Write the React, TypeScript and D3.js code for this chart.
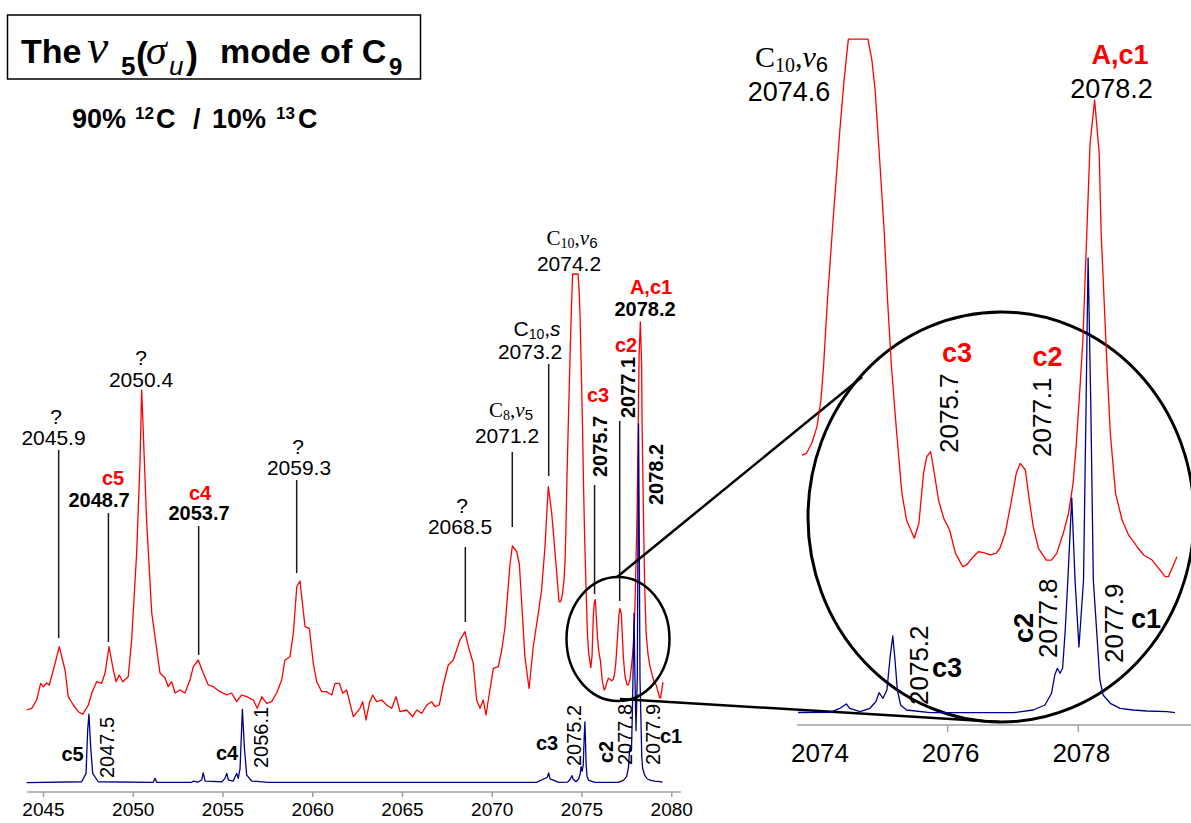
import React from 'react';
import * as d3 from 'd3';

// Red trace: 90% 12C / 10% 13C spectrum  [wavenumber (cm-1), absorbance (arb.)]
const redSpectrum: [number, number][] = [
  [2044.06,10],[2044.34,11.7],[2044.62,20],[2044.84,36.7],[2044.99,33.3],[2045.18,37],[2045.32,35],[2045.55,50],[2045.88,73.3],[2046.2,50],
  [2046.38,23.3],[2046.66,15],[2046.94,8.3],[2047.18,5.7],[2047.5,15],[2047.69,27],[2047.96,38.3],[2048.24,36.7],[2048.43,47],[2048.65,73.3],
  [2048.89,50],[2049.04,38.3],[2049.22,45],[2049.41,38.3],[2049.72,43.3],[2049.91,80],[2050.19,167],[2050.38,260],[2050.47,330],[2050.75,197],
  [2051.03,107],[2051.21,83.3],[2051.49,47],[2051.77,42],[2051.95,33.3],[2052.14,38.3],[2052.33,27],[2052.6,30],[2052.88,27],[2053.16,40],
  [2053.35,53.3],[2053.62,60],[2053.9,47],[2054.18,35],[2054.46,33.3],[2054.83,28.3],[2055.21,25],[2055.48,27],[2055.76,18.3],[2056.04,25],
  [2056.32,23.3],[2056.69,20],[2056.91,11.7],[2057.16,23.3],[2057.43,16.7],[2057.71,18.3],[2057.99,27],[2058.27,40],[2058.45,60],[2058.73,63.3],
  [2058.92,87],[2059.11,133.3],[2059.29,139],[2059.57,93.3],[2059.81,91.7],[2060.03,56.7],[2060.22,38.3],[2060.5,28.3],[2060.78,28.3],[2061.06,25],
  [2061.24,36.7],[2061.48,36.7],[2061.67,26.7],[2061.89,30],[2062.26,3.3],[2062.63,11.7],[2062.78,18.3],[2062.97,0],[2063.15,16.7],[2063.34,25],
  [2063.56,18.3],[2063.84,20],[2064.12,15],[2064.4,11.7],[2064.64,23.3],[2064.86,8.3],[2065.23,10],[2065.57,3.3],[2065.79,10],[2066.07,6.7],
  [2066.35,15],[2066.63,18.3],[2066.81,13.3],[2067.05,15],[2067.27,35],[2067.55,55],[2067.83,60],[2068.2,80],[2068.48,88.3],[2068.67,73.3],
  [2068.94,56.7],[2069.13,20],[2069.32,11.7],[2069.5,20],[2069.65,5],[2069.87,30],[2070.06,51.7],[2070.34,53.3],[2070.53,70],[2070.71,93],
  [2070.99,156],[2071.12,174],[2071.36,168.5],[2071.51,156],[2071.82,63],[2072.05,31.5],[2072.29,74],[2072.57,107.4],[2072.75,130],[2072.94,174],
  [2073.12,233.3],[2073.31,207.4],[2073.5,167],[2073.72,118.5],
  [2073.77,118],[2073.84,119.4],[2073.92,127.3],[2074.0,140.4],[2074.06,161.4],[2074.1,187.7],[2074.16,240.3],[2074.25,305.9],[2074.35,374.3],[2074.41,411.1],
  [2074.48,446],[2074.78,446],[2074.84,429.4],[2074.89,405.7],[2074.96,350.5],[2075.03,293.1],[2075.08,240.3],[2075.14,187.7],[2075.22,135.2],[2075.3,87.8],
  [2075.37,66.8],[2075.49,52.4],[2075.56,64.2],[2075.63,103.6],[2075.68,116.7],[2075.74,120.6],[2075.78,108.8],[2075.86,82.6],[2075.94,68.1],[2076.03,58.9],
  [2076.12,40.5],[2076.23,30],[2076.29,31.3],[2076.37,36.6],[2076.47,41.8],[2076.55,41],[2076.65,39.2],[2076.74,40.5],[2076.8,44.5],[2076.88,56.3],
  [2076.96,77.3],[2077.05,103.6],[2077.11,111.5],[2077.19,106.2],[2077.25,82.6],[2077.31,61.5],[2077.39,44.5],[2077.51,35.2],[2077.59,35.2],[2077.67,40.5],
  [2077.77,56.3],[2077.85,72.1],[2077.92,95.7],[2077.97,127.3],[2078.02,166.7],[2078.07,208.7],[2078.13,292.9],[2078.18,363.8],[2078.25,398],[2078.32,355.9],
  [2078.35,292.9],[2078.44,187.7],[2078.49,135.2],[2078.57,87.8],[2078.67,66.8],[2078.77,55],[2078.9,45.7],[2079.0,39.2],[2079.13,35.2],[2079.23,28.7],
  [2079.33,22.1],[2079.38,22.1],[2079.51,37.8],
];

// Blue trace: calculated / reference spectrum
const blueSpectrum: [number, number][] = [
  [2044.06,0],[2047.13,1.2],[2047.37,11.8],[2047.46,66],[2047.53,87],[2047.63,45],[2047.74,11.8],[2048.05,1.2],[2051.12,0.5],[2051.21,5.5],
  [2051.31,0.5],[2053.26,0.5],[2053.35,2.1],[2053.6,0.8],[2053.81,3.4],[2053.9,12.5],[2054.0,2.1],[2054.93,1.2],[2055.11,5.5],[2055.21,11.8],
  [2055.3,3.4],[2055.57,2.1],[2055.76,11.8],[2055.85,5.5],[2055.95,18],[2056.08,93],[2056.19,45],[2056.32,9.6],[2056.6,2.1],[2057.5,0.5],
  [2072.47,0.5],[2073.07,6.9],[2073.14,12.5],[2073.22,4.8],[2073.71,0.5],[2074.2,0.7],[2074.35,4.7],[2074.45,9],[2074.5,4.7],[2074.66,1.3],
  [2074.81,4.7],[2074.9,11.3],[2074.95,20.3],[2075.01,14.7],[2075.07,23],[2075.12,56.3],[2075.16,77],[2075.19,56.3],[2075.23,23],[2075.28,8],
  [2075.37,3],[2075.73,0.3],[2077.01,0.3],[2077.31,3],[2077.49,8],[2077.59,19.7],[2077.64,38],[2077.68,44.7],[2077.72,39.7],[2077.76,44.7],
  [2077.8,83],[2077.84,133],[2077.9,215],[2077.95,133],[2078.01,66],[2078.08,133],[2078.12,313],[2078.15,455],[2078.19,313],[2078.23,133],
  [2078.33,33],[2078.38,18],[2078.49,9.7],[2078.64,4.7],[2078.84,3],[2079.05,2],[2079.36,1.3],[2079.48,0.3],
];

const leftTicks = [2045, 2050, 2055, 2060, 2065, 2070, 2075, 2080];
const insetTickLabels = [2074, 2076, 2078];
const insetTickMarks = [2076, 2078];

const SANS = '"Liberation Sans", Arial, Helvetica, sans-serif';
const SERIF = '"Liberation Serif", "Times New Roman", serif';

type VProps = { x: number; y: number; size: number; bold?: boolean; color?: string; children: React.ReactNode };
const VText = ({ x, y, size, bold, color = '#000', children }: VProps) => (
  <text x={x} y={y} transform={`rotate(-90 ${x} ${y})`} fontSize={size} fontWeight={bold ? 'bold' : 'normal'}
    fill={color} fontFamily={SANS}>{children}</text>
);

type TProps = { x: number; y: number; size: number; bold?: boolean; color?: string; anchor?: string; children: React.ReactNode };
const T = ({ x, y, size, bold, color = '#000', anchor = 'middle', children }: TProps) => (
  <text x={x} y={y} fontSize={size} fontWeight={bold ? 'bold' : 'normal'} fill={color} fontFamily={SANS}
    textAnchor={anchor as any}>{children}</text>
);

const Leader = ({ x, y1, y2 }: { x: number; y1: number; y2: number }) => (
  <line x1={x} x2={x} y1={y1} y2={y2} stroke="#1a1a1a" strokeWidth={1.5} />
);

export default function App() {
  const xL = d3.scaleLinear().domain([2045, 2080]).range([43.5, 671.75]);
  const yRL = d3.scaleLinear().domain([0, 446]).range([720, 274]);
  const yBL = d3.scaleLinear().domain([0, 455]).range([782.7, 424]);
  const xI = d3.scaleLinear().domain([2074, 2078]).range([817, 1078.3]);
  const yRI = d3.scaleLinear().domain([0, 446]).range([604.7, 39.1]);
  const yBI = d3.scaleLinear().domain([0, 455]).range([713, 258]);

  const mk = (xs: d3.ScaleLinear<number, number>, ys: d3.ScaleLinear<number, number>) =>
    d3.line<[number, number]>().x(d => xs(d[0])).y(d => ys(d[1]));

  const redLeft = mk(xL, yRL)(redSpectrum) || '';
  const blueLeft = mk(xL, yBL)(blueSpectrum) || '';
  const redInset = mk(xI, yRI)(redSpectrum.filter(d => d[0] >= 2073.75)) || '';
  const blueInset = mk(xI, yBI)(blueSpectrum.filter(d => d[0] >= 2073.7)) || '';

  const axisY = 792;
  const insetAxisY = 725;

  return (
    <svg width={1191} height={823} style={{ position: 'absolute', left: 0, top: 0, background: '#fff' }}>
      <rect x={0} y={0} width={1191} height={823} fill="#fff" />

      {/* Title */}
      <rect x={7.5} y={15} width={413} height={64} fill="none" stroke="#000" strokeWidth={1.5} />
      <text x={21} y={63} fontFamily={SANS} fontWeight="bold" fontSize={34}>The</text>
      <text x={87} y={63} fontFamily={SERIF} fontStyle="italic" fontSize={48}>ν</text>
      <text x={121} y={75} fontFamily={SANS} fontWeight="bold" fontSize={26}>5</text>
      <text x={136} y={68} fontFamily={SANS} fontWeight="bold" fontSize={36}>(</text>
      <text x={146} y={64} fontFamily={SERIF} fontStyle="italic" fontSize={42}>σ</text>
      <text x={169} y={75} fontFamily={SANS} fontStyle="italic" fontSize={26}>u</text>
      <text x={186} y={68} fontFamily={SANS} fontWeight="bold" fontSize={36}>)</text>
      <text x={220} y={63} fontFamily={SANS} fontWeight="bold" fontSize={34}>mode of C</text>
      <text x={389} y={75} fontFamily={SANS} fontWeight="bold" fontSize={24}>9</text>

      <text y={128} fontFamily={SANS} fontWeight="bold" fontSize={27}>
        <tspan x={72}>90%</tspan>
        <tspan x={135} y={119} fontSize={17}>12</tspan>
        <tspan x={156} y={128}>C</tspan>
        <tspan x={193}>/</tspan>
        <tspan x={212}>10%</tspan>
        <tspan x={276} y={119} fontSize={17}>13</tspan>
        <tspan x={298} y={128}>C</tspan>
      </text>

      {/* Left panel axis */}
      <line x1={xL(2044.1)} x2={xL(2080.5)} y1={axisY} y2={axisY} stroke="#a0a0a0" strokeWidth={1.5} />
      {leftTicks.map(t => (
        <g key={t}>
          <line x1={xL(t)} x2={xL(t)} y1={axisY} y2={axisY + 5} stroke="#a0a0a0" strokeWidth={1.5} />
          <T x={xL(t)} y={816} size={19}>{t}</T>
        </g>
      ))}

      {/* Left spectra */}
      <path d={redLeft} fill="none" stroke="#ff0000" strokeWidth={1.3} strokeLinejoin="round" />
      <path d={blueLeft} fill="none" stroke="#00008b" strokeWidth={1.3} strokeLinejoin="round" />

      {/* Left annotations - red trace */}
      <T x={56} y={424} size={21}>?</T>
      <T x={53.5} y={445} size={21}>2045.9</T>
      <Leader x={xL(2045.9) - 1} y1={450} y2={638} />

      <T x={113} y={485} size={20} bold color="#ff0000">c5</T>
      <T x={99} y={507} size={20} bold>2048.7</T>
      <Leader x={xL(2048.7) - 1.5} y1={513} y2={642} />

      <T x={141} y={365} size={21}>?</T>
      <T x={141} y={387} size={21}>2050.4</T>

      <T x={200} y={500} size={20} bold color="#ff0000">c4</T>
      <T x={199} y={520} size={20} bold>2053.7</T>
      <Leader x={xL(2053.7) - 1} y1={526} y2={655} />

      <T x={298} y={454} size={21}>?</T>
      <T x={299} y={475} size={21}>2059.3</T>
      <Leader x={xL(2059.3) - 3.5} y1={480} y2={573} />

      <T x={462} y={513} size={21}>?</T>
      <T x={460} y={534} size={21}>2068.5</T>
      <Leader x={xL(2068.5)} y1={547} y2={622} />

      <text x={511} y={417} textAnchor="middle" fontFamily={SERIF} fontSize={21}>
        C<tspan fontSize={14} dy={3}>8</tspan><tspan dy={-3}>,</tspan><tspan fontStyle="italic">ν</tspan>
        <tspan fontFamily={SANS} fontSize={15} dy={3}>5</tspan>
      </text>
      <T x={507} y={443} size={21}>2071.2</T>
      <Leader x={xL(2071.2) - 1.5} y1={452} y2={527} />

      <text x={537} y={336} textAnchor="middle" fontFamily={SANS} fontSize={21}>
        C<tspan fontSize={14} dy={3}>10</tspan><tspan dy={-3}>,</tspan><tspan fontStyle="italic">s</tspan>
      </text>
      <T x={530} y={359} size={21}>2073.2</T>
      <Leader x={xL(2073.2) - 1} y1={364} y2={476} />

      <text x={572} y={245} textAnchor="middle" fontFamily={SERIF} fontSize={21}>
        C<tspan fontSize={14} dy={3}>10</tspan><tspan dy={-3}>,</tspan><tspan fontStyle="italic">ν</tspan>
        <tspan fontFamily={SANS} fontSize={15} dy={3}>6</tspan>
      </text>
      <T x={569} y={271} size={21}>2074.2</T>

      <T x={598} y={402} size={20} bold color="#ff0000">c3</T>
      <VText x={607} y={477} size={20} bold>2075.7</VText>
      <Leader x={xL(2075.7)} y1={485} y2={594} />

      <T x={626} y={352} size={20} bold color="#ff0000">c2</T>
      <VText x={635} y={418} size={20} bold>2077.1</VText>
      <Leader x={xL(2077.1)} y1={421} y2={601} />

      <T x={651} y={294} size={20} bold color="#ff0000">A,c1</T>
      <T x={645} y={316} size={20} bold>2078.2</T>
      <VText x={663} y={505} size={20} bold>2078.2</VText>

      {/* Left annotations - blue trace */}
      <T x={72.5} y={761} size={20} bold>c5</T>
      <VText x={113.5} y={778} size={20}>2047.5</VText>
      <T x={227} y={760} size={20} bold>c4</T>
      <VText x={268} y={768} size={20}>2056.1</VText>
      <T x={547} y={750} size={20} bold>c3</T>
      <VText x={581} y={766} size={20}>2075.2</VText>
      <VText x={613} y={763} size={20} bold>c2</VText>
      <VText x={632} y={765} size={20}>2077.8</VText>
      <VText x={660} y={765} size={20}>2077.9</VText>
      <T x={671} y={743} size={20} bold>c1</T>

      {/* Magnifier */}
      <ellipse cx={618} cy={639} rx={51.5} ry={62} fill="none" stroke="#000" strokeWidth={2.5} />
      <line x1={617} y1={577} x2={862} y2={377} stroke="#000" strokeWidth={2.5} />
      <line x1={620} y1={699} x2={1000} y2={722} stroke="#000" strokeWidth={2.5} />
      <ellipse cx={1001} cy={517} rx={193} ry={205} fill="none" stroke="#000" strokeWidth={3} />

      {/* Inset axis */}
      <line x1={797} x2={1191} y1={insetAxisY} y2={insetAxisY} stroke="#a0a0a0" strokeWidth={1.5} />
      {insetTickMarks.map(t => (
        <line key={t} x1={xI(t)} x2={xI(t)} y1={insetAxisY} y2={insetAxisY + 7} stroke="#a0a0a0" strokeWidth={1.5} />
      ))}
      {insetTickLabels.map(t => (
        <T key={t} x={xI(t) + 3} y={762} size={26}>{t}</T>
      ))}

      {/* Inset spectra */}
      <path d={redInset} fill="none" stroke="#ff0000" strokeWidth={1.3} strokeLinejoin="round" />
      <path d={blueInset} fill="none" stroke="#00008b" strokeWidth={1.3} strokeLinejoin="round" />

      {/* Inset annotations */}
      <text x={755} y={67} fontFamily={SERIF} fontSize={30}>
        C<tspan fontSize={20} dy={5}>10</tspan><tspan dy={-5}>,</tspan><tspan fontStyle="italic">ν</tspan>
        <tspan fontFamily={SANS} fontSize={22} dy={5}>6</tspan>
      </text>
      <T x={789} y={101} size={27}>2074.6</T>

      <T x={1120} y={64} size={27} bold color="#ff0000">A,c1</T>
      <T x={1111.5} y={98} size={27}>2078.2</T>

      <T x={957} y={362} size={27} bold color="#ff0000">c3</T>
      <VText x={958} y={453} size={26}>2075.7</VText>
      <T x={1047.5} y={366} size={27} bold color="#ff0000">c2</T>
      <VText x={1051} y={457} size={26}>2077.1</VText>

      <VText x={928} y={705} size={26}>2075.2</VText>
      <T x={947} y={677} size={27} bold>c3</T>
      <VText x={1033} y={643} size={27} bold>c2</VText>
      <VText x={1057} y={658} size={26}>2077.8</VText>
      <VText x={1123} y={663} size={26}>2077.9</VText>
      <T x={1146} y={628} size={27} bold>c1</T>
    </svg>
  );
}
